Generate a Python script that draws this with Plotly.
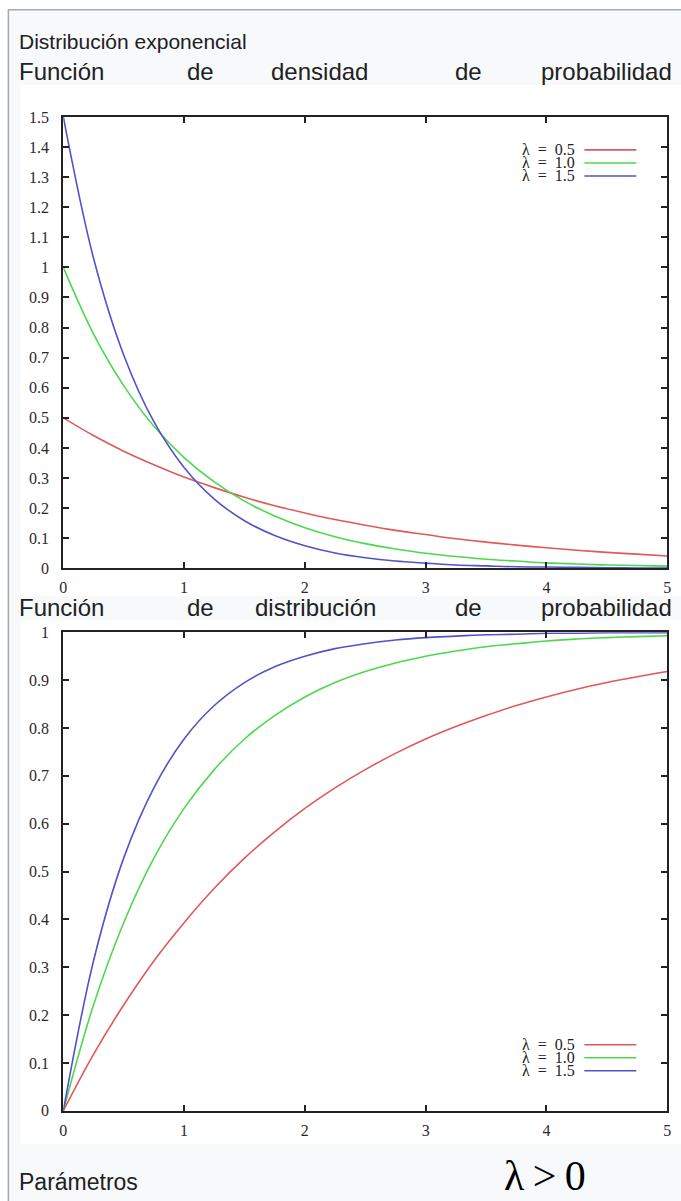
import plotly.graph_objects as go

W, H = 681, 1201

# ---- data ----
x_vals = [0, 0.25, 0.5, 0.75, 1, 1.25, 1.5, 1.75, 2, 2.25, 2.5, 2.75, 3,
          3.25, 3.5, 3.75, 4, 4.25, 4.5, 4.75, 5]
lambdas = ["0.5", "1.0", "1.5"]
pdf_l05 = [0.5, 0.441, 0.389, 0.344, 0.303, 0.268, 0.236, 0.208, 0.184, 0.162, 0.143,
           0.126, 0.112, 0.098, 0.087, 0.077, 0.068, 0.060, 0.053, 0.047, 0.041]
pdf_l10 = [1.0, 0.779, 0.607, 0.472, 0.368, 0.287, 0.223, 0.174, 0.135, 0.105, 0.082,
           0.064, 0.050, 0.039, 0.030, 0.024, 0.018, 0.014, 0.011, 0.009, 0.007]
pdf_l15 = [1.5, 1.031, 0.709, 0.487, 0.335, 0.230, 0.158, 0.109, 0.075, 0.051, 0.035,
           0.024, 0.017, 0.011, 0.008, 0.005, 0.004, 0.003, 0.002, 0.001, 0.001]
cdf_l05 = [0, 0.118, 0.221, 0.313, 0.393, 0.465, 0.528, 0.583, 0.632, 0.675, 0.713,
           0.747, 0.777, 0.803, 0.826, 0.847, 0.865, 0.881, 0.895, 0.907, 0.918]
cdf_l10 = [0, 0.221, 0.393, 0.528, 0.632, 0.713, 0.777, 0.826, 0.865, 0.895, 0.918,
           0.936, 0.950, 0.961, 0.970, 0.976, 0.982, 0.986, 0.989, 0.991, 0.993]
cdf_l15 = [0, 0.313, 0.528, 0.675, 0.777, 0.847, 0.895, 0.928, 0.950, 0.966, 0.976,
           0.984, 0.989, 0.992, 0.995, 0.996, 0.998, 0.998, 0.999, 0.999, 0.999]
pdf_ticks = [0, 0.1, 0.2, 0.3, 0.4, 0.5, 0.6, 0.7, 0.8, 0.9, 1, 1.1, 1.2, 1.3, 1.4, 1.5]
cdf_ticks = [0, 0.1, 0.2, 0.3, 0.4, 0.5, 0.6, 0.7, 0.8, 0.9, 1]
x_ticks = [0, 1, 2, 3, 4, 5]

colors = ["#e0585a", "#4ed84e", "#5252cc"]

def px(x):
    return ((x - 3.6) / 0.990) / W

def py(y):
    return 1 - ((y - 9.2) / 0.985) / H

fig = go.Figure()
for ys, c in zip([pdf_l05, pdf_l10, pdf_l15], colors):
    fig.add_trace(go.Scatter(x=x_vals, y=ys, mode="lines", line=dict(color=c, width=1.6, shape="spline"),
                             xaxis="x", yaxis="y", showlegend=False, hoverinfo="skip"))
for ys, c in zip([cdf_l05, cdf_l10, cdf_l15], colors):
    fig.add_trace(go.Scatter(x=x_vals, y=ys, mode="lines", line=dict(color=c, width=1.6, shape="spline"),
                             xaxis="x2", yaxis="y2", showlegend=False, hoverinfo="skip"))

tickfont = dict(family="Liberation Serif", size=16, color="#2a2a2a")
axis_common = dict(showline=True, linecolor="#222222", linewidth=2, mirror="ticks",
                   ticks="inside", ticklen=6, tickwidth=1.5, tickcolor="#222222",
                   showgrid=False, zeroline=False, tickfont=tickfont, fixedrange=True)

# plot areas (pixels)
p1 = dict(x0=63, x1=668, y0=118, y1=569)
p2 = dict(x0=63, x1=668, y0=633, y1=1111)

shapes = []
# infobox background and border
shapes.append(dict(type="rect", xref="paper", yref="paper", x0=px(8), x1=px(W + 20), y0=py(H + 20), y1=py(11),
                   fillcolor="#f8f9fa", line=dict(color="#a2a9b1", width=1.5), layer="below"))
# image white areas
shapes.append(dict(type="rect", xref="paper", yref="paper", x0=px(20), x1=px(W + 5), y0=py(597), y1=py(86),
                   fillcolor="white", line=dict(width=0), layer="below"))
shapes.append(dict(type="rect", xref="paper", yref="paper", x0=px(20), x1=px(W + 5), y0=py(1144), y1=py(621),
                   fillcolor="white", line=dict(width=0), layer="below"))

annotations = []
sans = "Liberation Sans"

def text(t, x, y, size=24, family=sans, xanchor="left", color="#202122"):
    annotations.append(dict(text=t, x=px(x), y=py(y), xref="paper", yref="paper", showarrow=False,
                            xanchor=xanchor, yanchor="middle", borderpad=0,
                            font=dict(family=family, size=size, color=color)))

text("Distribución exponencial", 18, 43, size=21)
for word, x in zip(["Función", "de", "densidad", "de", "probabilidad"], [18, 186, 270, 454, 541]):
    text(word, x, 73)
for word, x in zip(["Función", "de", "distribución", "de", "probabilidad"], [18, 186, 254, 454, 541]):
    text(word, x, 608)
text("Parámetros", 18, 1182, size=23)
text("λ\u2009&gt;\u20090", 546, 1176, size=42, family="Liberation Serif", xanchor="center", color="#000000")

# legends
for rows in ([151, 164, 177], [1045, 1058, 1071]):
    for lab, c, yy in zip(lambdas, colors, rows):
        text("λ\u2002=\u2002" + lab, 577, yy, size=16, family="Liberation Serif", xanchor="right", color="#222222")
        shapes.append(dict(type="line", xref="paper", yref="paper", x0=px(585), x1=px(637), y0=py(yy), y1=py(yy),
                           line=dict(color=c, width=1.6)))

fig.update_layout(
    autosize=True, margin=dict(l=0, r=0, t=0, b=0),
    paper_bgcolor="white", plot_bgcolor="white",
    xaxis=dict(domain=[px(p1["x0"]), px(p1["x1"])], range=[0, 5], tickvals=x_ticks, anchor="y",
               ticklabelstandoff=4, **axis_common),
    yaxis=dict(domain=[py(p1["y1"]), py(p1["y0"])], range=[0, 1.5], tickvals=pdf_ticks, anchor="x",
               ticklabelstandoff=9, **axis_common),
    xaxis2=dict(domain=[px(p2["x0"]), px(p2["x1"])], range=[0, 5], tickvals=x_ticks, anchor="y2",
                ticklabelstandoff=4, **axis_common),
    yaxis2=dict(domain=[py(p2["y1"]), py(p2["y0"])], range=[0, 1], tickvals=cdf_ticks, anchor="x2",
                ticklabelstandoff=9, **axis_common),
    shapes=shapes, annotations=annotations,
)

fig.write_html("out.html", config={"displayModeBar": False, "responsive": True},
               default_width="100vw", default_height="100vh",
               post_script="document.body.style.margin='0';document.body.style.overflow='hidden';")
